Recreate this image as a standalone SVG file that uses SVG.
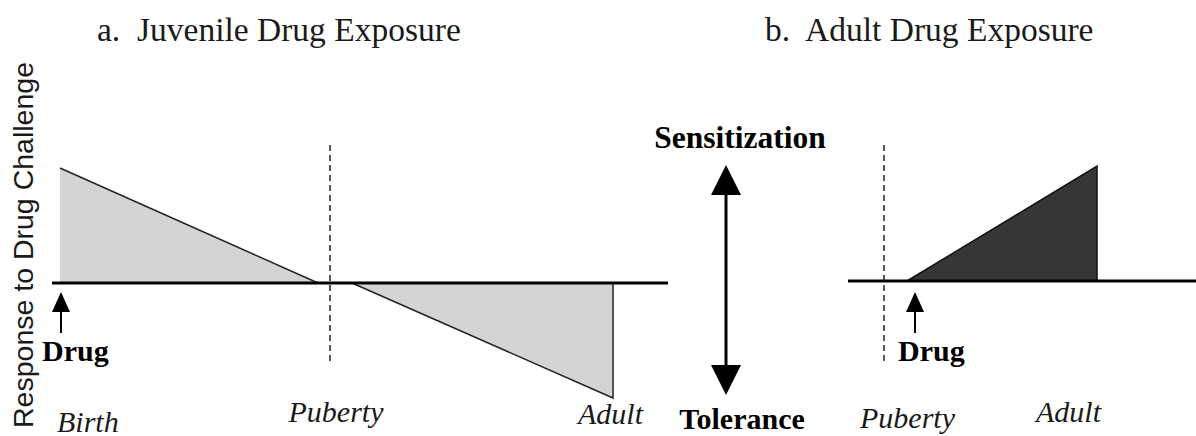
<svg xmlns="http://www.w3.org/2000/svg" width="1196" height="436" viewBox="0 0 1196 436">
  <style>
    .title { font-family: "Liberation Serif", "Times New Roman", serif; font-size: 33.5px; fill: #1a1a1a; white-space: pre; }
    .bold { font-family: "Liberation Serif", "Times New Roman", serif; font-weight: bold; fill: #000; }
    .ital { font-family: "Liberation Serif", "Times New Roman", serif; font-size: 30px; font-style: italic; fill: #1a1a1a; }
    .ylab { font-family: "Liberation Sans", Arial, sans-serif; font-size: 28.5px; fill: #1a1a1a; }
    .axis { stroke: #000; stroke-width: 3; fill: none; }
    .dash { stroke: #222; stroke-width: 1.5; stroke-dasharray: 6 4; fill: none; }
    .light { fill: #d4d4d4; stroke: none; }
    .dark { fill: #363636; stroke: #111; stroke-width: 1.5; }
    .edge { stroke: #222; stroke-width: 1.5; fill: none; }
    .arr { stroke: #000; stroke-width: 2; fill: none; }
    .bigarr { stroke: #000; stroke-width: 3; fill: none; }
    .head { fill: #000; }
  </style>

  <rect width="1196" height="436" fill="#fff"/>

  <!-- panel titles -->
  <text class="title" x="97" y="41" xml:space="preserve">a.  Juvenile Drug Exposure</text>
  <text class="title" x="765" y="41" xml:space="preserve">b.  Adult Drug Exposure</text>

  <!-- vertical axis label -->
  <text class="ylab" transform="translate(33,428) rotate(-90)">Response to Drug Challenge</text>

  <!-- panel a: juvenile exposure curve -->
  <g id="juvenile-curve">
    <polygon class="light" points="60,168 60,283 318,283"/>
    <line class="edge" x1="60" y1="168" x2="318" y2="283"/>
    <polygon class="light" points="352,283 613,283 613,398"/>
    <polyline class="edge" points="352,283 613,398 613,283"/>
    <line class="dash" x1="330" y1="145" x2="330" y2="362"/>
    <line class="axis" x1="52" y1="283" x2="668" y2="283"/>
  </g>

  <!-- panel a: labels -->
  <g id="juvenile-drug">
    <text class="bold" x="42" y="361" font-size="30">Drug</text>
  </g>
  <g id="juvenile-timeline">
    <text class="ital" x="57" y="432">Birth</text>
    <text class="ital" x="336" y="422" text-anchor="middle">Puberty</text>
    <text class="ital" x="578" y="424">Adult</text>
  </g>

  <!-- centre scale -->
  <g id="scale">
    <text class="bold" x="740" y="148" font-size="31.5" text-anchor="middle">Sensitization</text>
    <text class="bold" x="742" y="429" font-size="30" text-anchor="middle">Tolerance</text>
  </g>

  <!-- panel b: adult exposure curve -->
  <g id="adult-curve">
    <polygon class="dark" points="907,281 1097,166 1097,281"/>
    <line class="dash" x1="884" y1="145" x2="884" y2="362"/>
    <line class="axis" x1="848" y1="281" x2="1196" y2="281"/>
  </g>
  <g id="adult-drug">
    <text class="bold" x="898" y="361" font-size="30">Drug</text>
  </g>
  <g id="adult-timeline">
    <text class="ital" x="860" y="428">Puberty</text>
    <text class="ital" x="1036" y="422">Adult</text>
  </g>

  <!-- arrows -->
  <g id="connectors">
    <line class="arr" x1="61" y1="333" x2="61" y2="310"/>
    <path class="head" d="M52,312 L70,312 L61,292 Z"/>
    <line class="arr" x1="915" y1="333" x2="915" y2="310"/>
    <path class="head" d="M906,312 L924,312 L915,292 Z"/>
    <line class="bigarr" x1="726" y1="194" x2="726" y2="366"/>
    <path class="head" d="M711,195 L741,195 L726,165 Z"/>
    <path class="head" d="M711,365 L741,365 L726,395 Z"/>
  </g>
</svg>
